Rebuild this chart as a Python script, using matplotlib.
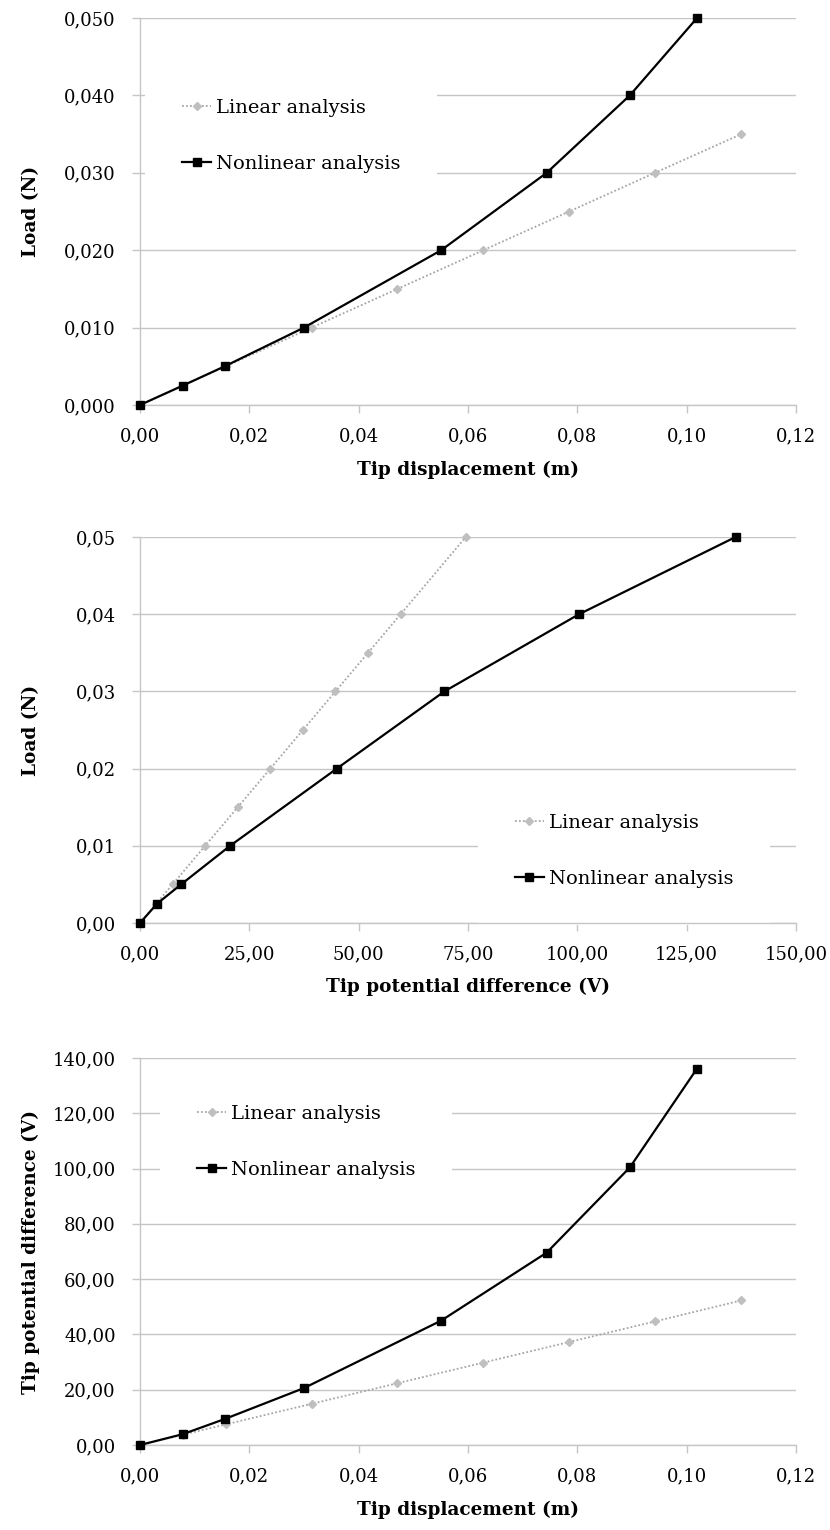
import matplotlib
matplotlib.use("Agg")
import matplotlib.pyplot as plt
from matplotlib.ticker import FuncFormatter, MultipleLocator

plt.rcParams['font.family'] = ['DejaVu Serif']

# --- Load vs tip displacement -------------------------------------------
disp_lin_a = [0.0, 0.0078, 0.0157, 0.0314, 0.0471, 0.0628, 0.0785, 0.0942, 0.1100]
load_lin_a = [0.0, 0.0025, 0.005, 0.010, 0.015, 0.020, 0.025, 0.030, 0.035]
disp_nl = [0.0, 0.0078, 0.0155, 0.0300, 0.0551, 0.0744, 0.0896, 0.1019]
load_nl = [0.0, 0.0025, 0.005, 0.010, 0.020, 0.030, 0.040, 0.050]

# --- Load vs tip potential difference -----------------------------------
volt_lin_b = [0.0, 3.7, 7.45, 14.9, 22.35, 29.8, 37.25, 44.7, 52.15, 59.6, 74.5]
load_lin_b = [0.0, 0.0025, 0.005, 0.010, 0.015, 0.020, 0.025, 0.030, 0.035, 0.040, 0.050]
volt_nl = [0.0, 3.9, 9.4, 20.6, 45.0, 69.6, 100.4, 136.2]

# --- Tip potential difference vs tip displacement -----------------------
disp_lin_c = [0.0, 0.0078, 0.0157, 0.0314, 0.0471, 0.0628, 0.0785, 0.0942, 0.1100]
volt_lin_c = [0.0, 3.7, 7.45, 14.9, 22.35, 29.8, 37.25, 44.7, 52.3]

label_lin = "Linear analysis"
label_nl = "Nonlinear analysis"

GRID = "#c6c6c6"
LIN_LINE = "#a6a6a6"
LIN_MARK = "#bfbfbf"

W, H = 830, 1530
fig = plt.figure(figsize=(W / 100, H / 100), dpi=100)


def comma_fmt(decimals):
    return FuncFormatter(lambda v, p: f"{v:.{decimals}f}".replace(".", ","))


def make_axes(top_px, bottom_px):
    left_px, right_px = 140, 796
    ax = fig.add_axes([left_px / W, (H - bottom_px) / H,
                       (right_px - left_px) / W, (bottom_px - top_px) / H])
    for s in ("top", "right"):
        ax.spines[s].set_visible(False)
    for s in ("left", "bottom"):
        ax.spines[s].set_color(GRID)
        ax.spines[s].set_linewidth(1.0)
    ax.grid(axis="y", color=GRID, linewidth=1.0)
    ax.set_axisbelow(True)
    ax.tick_params(axis="y", direction="out", length=5.5, width=1.0,
                   color=GRID, pad=12, labelsize=13)
    ax.tick_params(axis="x", direction="out", length=6, width=1.0,
                   color=GRID, pad=10, labelsize=13)
    return ax


def draw(ax, xl, yl, xn, yn):
    ax.plot(xl, yl, linestyle=(0, (1, 1.2)), color=LIN_LINE, linewidth=1.3,
            marker="D", markersize=4, markerfacecolor=LIN_MARK,
            markeredgecolor=LIN_MARK, label=label_lin, clip_on=False, zorder=3)
    ax.plot(xn, yn, linestyle="-", color="black", linewidth=1.6,
            marker="s", markersize=5.5, markerfacecolor="black",
            markeredgecolor="black", label=label_nl, clip_on=False, zorder=4)


def legend(ax, x, y, pad):
    leg = ax.legend(loc="upper left", bbox_to_anchor=(x, y), borderaxespad=0,
                    frameon=True, fancybox=False, facecolor="white",
                    edgecolor="none", framealpha=1.0, fontsize=14,
                    handlelength=1.5, handletextpad=0.25, labelspacing=1.95,
                    borderpad=pad)
    # legend box hides the gridlines but stays beneath the axis spines
    leg.set_zorder(2.4)


def labels(ax, xlabel, ylabel):
    ax.set_xlabel(xlabel, fontsize=13.3, fontweight="bold")
    ax.set_ylabel(ylabel, fontsize=13.3, fontweight="bold")
    ax.xaxis.set_label_coords(0.5, -0.143)
    ax.yaxis.set_label_coords(-0.152, 0.5)


# Panel 1
ax1 = make_axes(18, 405)
draw(ax1, disp_lin_a, load_lin_a, disp_nl, load_nl)
ax1.set_xlim(0, 0.12)
ax1.set_ylim(0, 0.05)
ax1.xaxis.set_major_locator(MultipleLocator(0.02))
ax1.yaxis.set_major_locator(MultipleLocator(0.01))
ax1.xaxis.set_major_formatter(comma_fmt(2))
ax1.yaxis.set_major_formatter(comma_fmt(3))
labels(ax1, "Tip displacement (m)", "Load (N)")
legend(ax1, 0.0076, 0.886, 1.9)

# Panel 2
ax2 = make_axes(537, 923)
draw(ax2, volt_lin_b, load_lin_b, volt_nl, load_nl)
ax2.set_xlim(0, 150)
ax2.set_ylim(0, 0.05)
ax2.xaxis.set_major_locator(MultipleLocator(25))
ax2.yaxis.set_major_locator(MultipleLocator(0.01))
ax2.xaxis.set_major_formatter(comma_fmt(2))
ax2.yaxis.set_major_formatter(comma_fmt(2))
labels(ax2, "Tip potential difference (V)", "Load (N)")
legend(ax2, 0.515, 0.378, 1.9)

# Panel 3
ax3 = make_axes(1058, 1445)
draw(ax3, disp_lin_c, volt_lin_c, disp_nl, volt_nl)
ax3.set_xlim(0, 0.12)
ax3.set_ylim(0, 140)
ax3.xaxis.set_major_locator(MultipleLocator(0.02))
ax3.yaxis.set_major_locator(MultipleLocator(20))
ax3.xaxis.set_major_formatter(comma_fmt(2))
ax3.yaxis.set_major_formatter(comma_fmt(2))
labels(ax3, "Tip displacement (m)", "Tip potential difference (V)")
legend(ax3, 0.0305, 0.974, 1.9)

fig.savefig("out.png", dpi=100, facecolor="white")
